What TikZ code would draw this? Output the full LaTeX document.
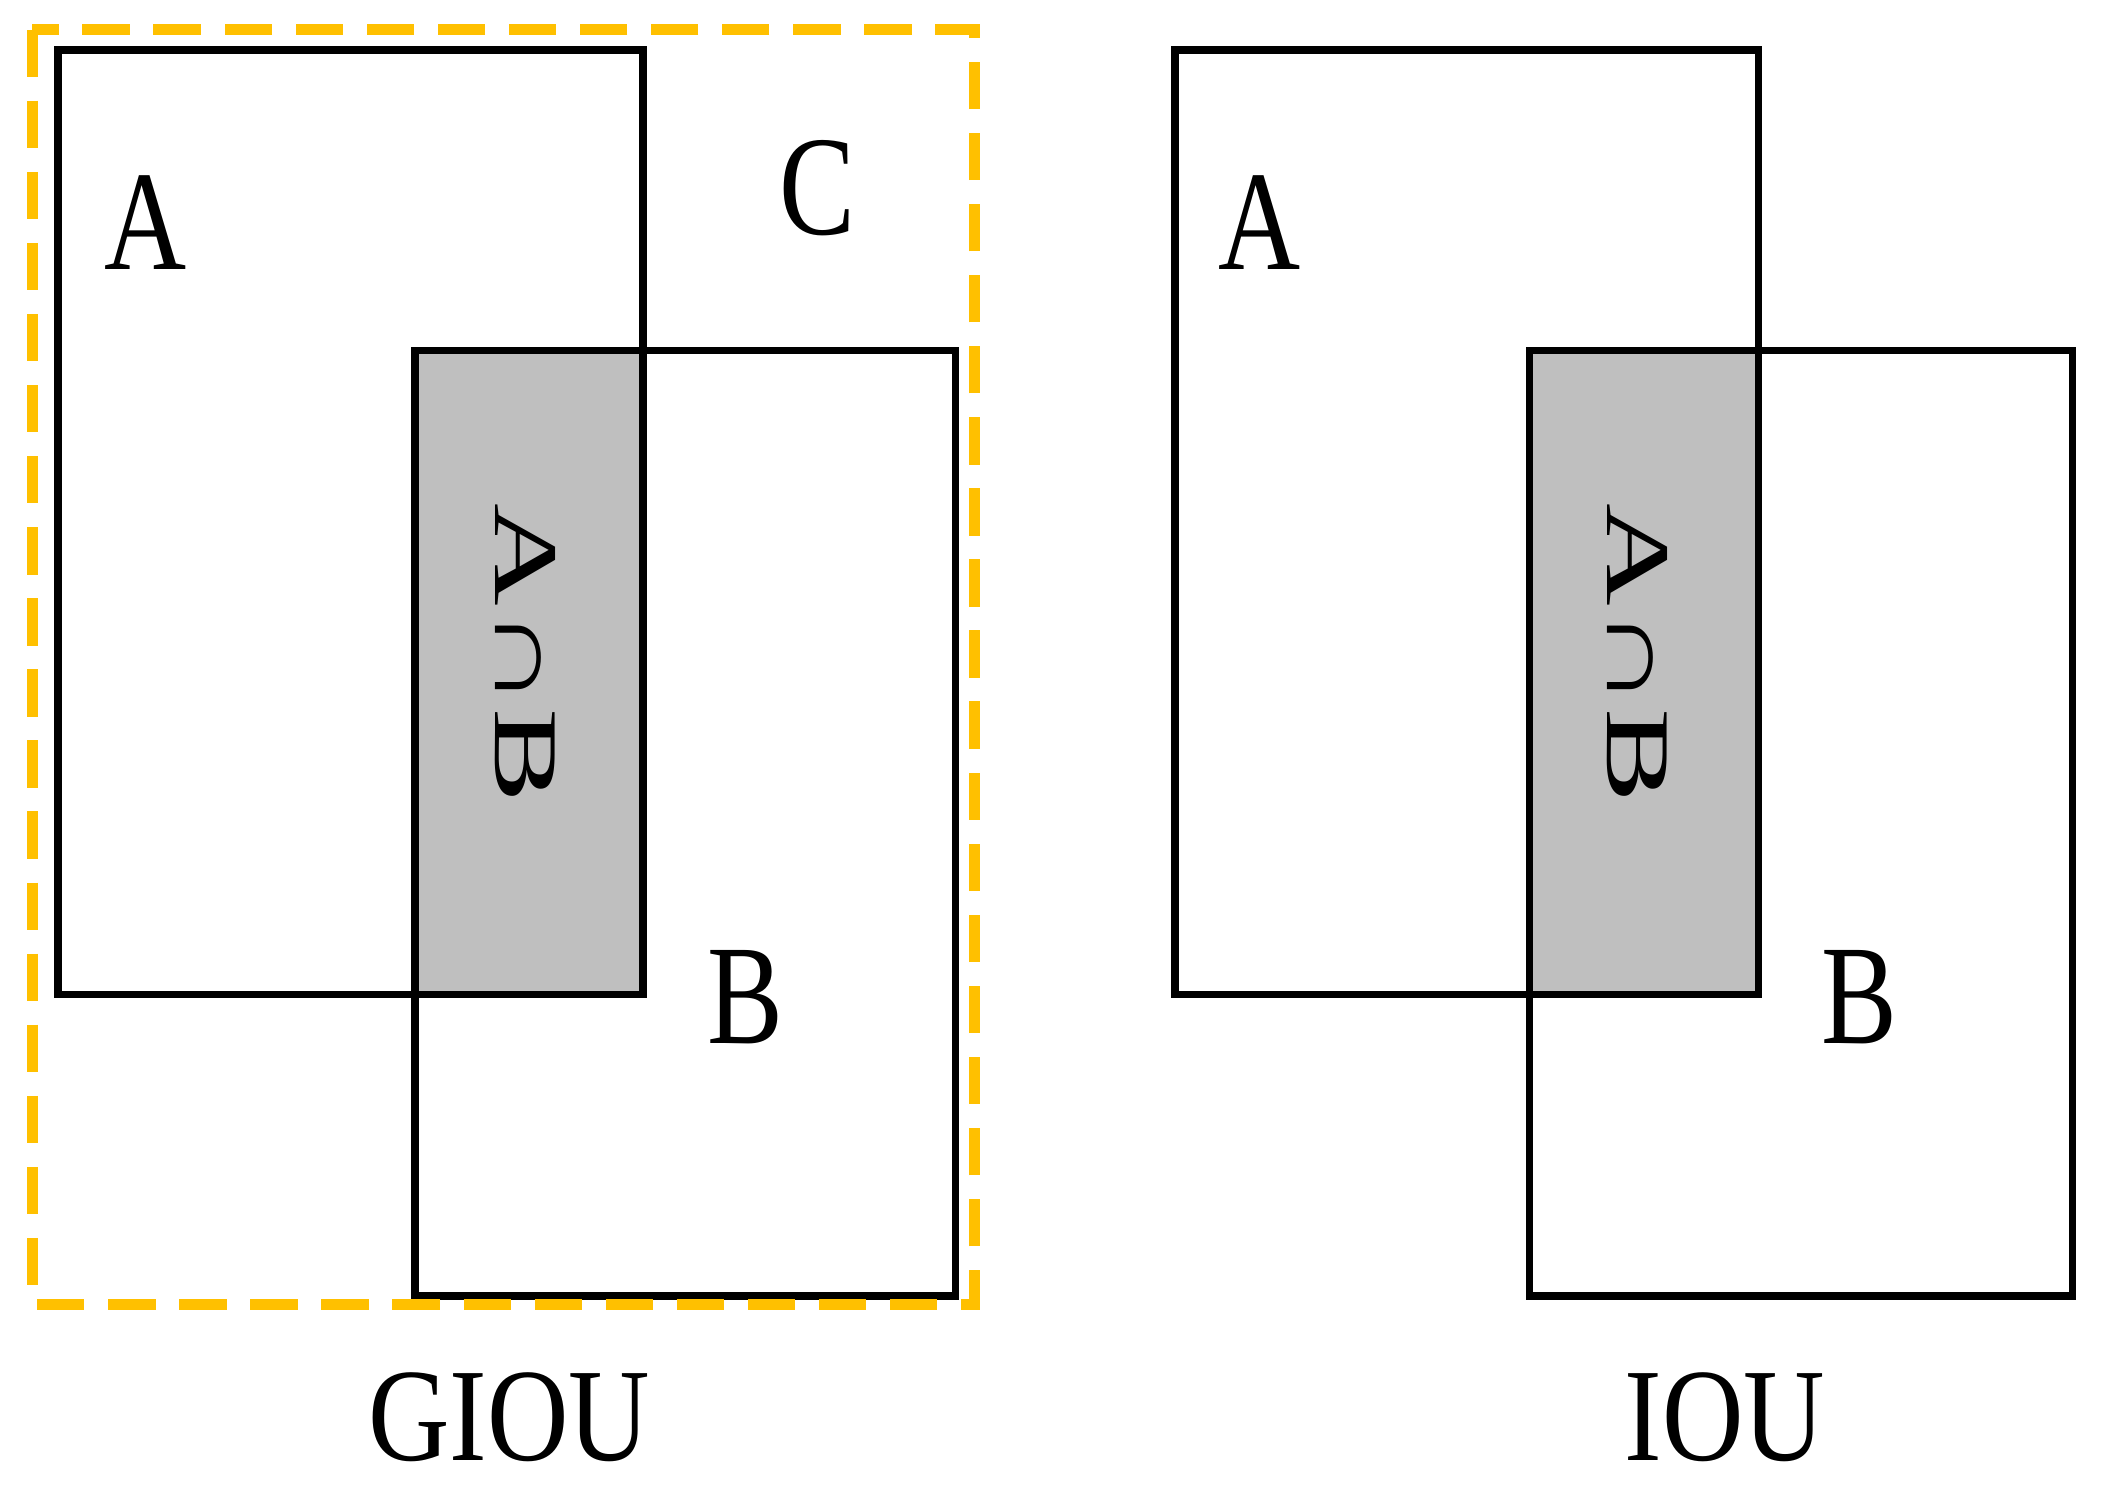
\documentclass[tikz,border=0pt]{standalone}
\usepackage{fontspec}
\setmainfont{Liberation Serif}
\begin{document}
\begin{tikzpicture}[x=0.01cm,y=-0.01cm,
  box/.style={draw=black,line width=1.6pt},
  lab/.style={font=\fontsize{30}{32}\selectfont,inner sep=0pt,xscale=0.8},
  captxt/.style={font=\fontsize{28}{30}\selectfont,inner sep=0pt,xscale=0.85}]
\useasboundingbox (0,0) rectangle (1560,1107);
\definecolor{gold}{RGB}{255,192,0}
% GIOU
\fill[gray!50] (308,260) rectangle (477,738);
\draw[box] (43,37) rectangle (477,738);
\draw[box] (308,260) rectangle (709,962);
\draw[gold,line width=2.4pt,dash pattern=on 10pt off 5pt] (24,22) rectangle (723,968);
\node[lab] (a1) at (108,165) {A};
\node[lab] (c1) at (607,140) {C};
\node[lab] (b1) at (553,740) {B};
\node[lab,rotate=-90,xscale=1,yscale=0.8] (ab1) at (390,485) {A∩B};
\node[captxt] (g) at (378,1052) {GIOU};
% IOU
\fill[gray!50] (1135,260) rectangle (1305,738);
\draw[box] (872,37) rectangle (1305,738);
\draw[box] (1135,260) rectangle (1538,962);
\node[lab] (a2) at (935,165) {A};
\node[lab] (b2) at (1380,740) {B};
\node[lab,rotate=-90,xscale=1,yscale=0.8] (ab2) at (1215,485) {A∩B};
\node[captxt] (i) at (1280,1052) {IOU};
\end{tikzpicture}
\end{document}
